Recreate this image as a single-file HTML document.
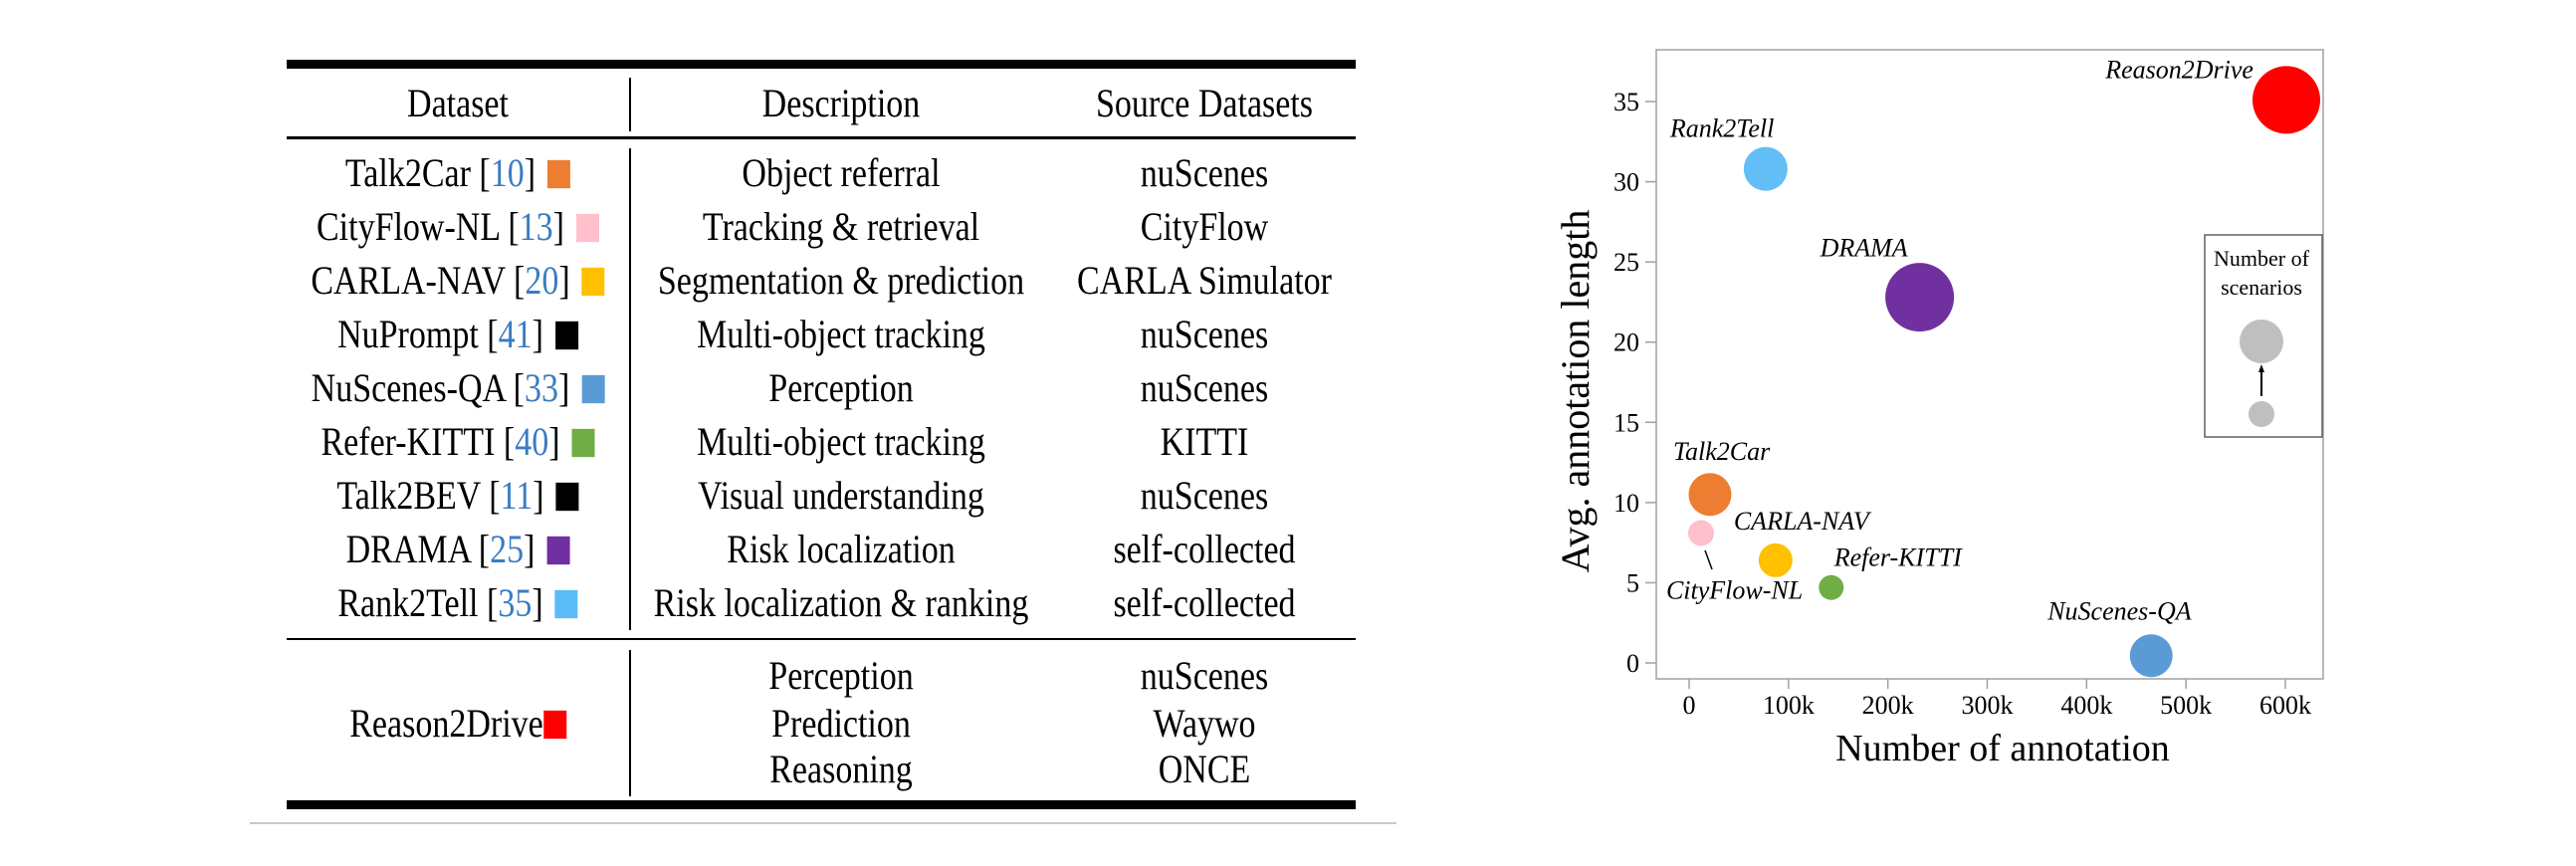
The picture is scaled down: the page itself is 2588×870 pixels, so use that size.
<!DOCTYPE html>
<html><head><meta charset="utf-8">
<style>
html,body{margin:0;padding:0;background:#fff;}
#root{position:relative;width:2588px;height:870px;overflow:hidden;background:#fff;font-family:"Liberation Serif",serif;color:#000;}
.t{position:absolute;font-size:34px;white-space:nowrap;transform:translate(-50%,-50%) scaleY(1.18);line-height:1;}
.cite{color:#3a7cc3;}
.sq{display:inline-block;width:23px;height:24px;vertical-align:-2px;margin-left:12px;}
.hl{position:absolute;background:#000;}
</style></head>
<body>
<div id="root">
  <div>
    <div class="hl" style="left:288px;top:60px;width:1074px;height:9px;"></div>
    <div class="hl" style="left:288px;top:137px;width:1074px;height:3px;"></div>
    <div class="hl" style="left:288px;top:641px;width:1074px;height:2px;"></div>
    <div class="hl" style="left:288px;top:804px;width:1074px;height:9px;"></div>
    <div class="hl" style="left:251px;top:826px;width:1152px;height:2px;background:#c8c8c8;"></div>
    <div class="hl" style="left:632px;top:78px;width:2px;height:54px;"></div>
    <div class="hl" style="left:632px;top:149px;width:2px;height:484px;"></div>
    <div class="hl" style="left:632px;top:653px;width:2px;height:147px;"></div>

    <div class="t" style="left:460px;top:105px;">Dataset</div>
    <div class="t" style="left:845px;top:105px;">Description</div>
    <div class="t" style="left:1210px;top:105px;">Source Datasets</div>

    <div class="t" style="left:460px;top:175px;">Talk2Car [<span class="cite">10</span>]<span class="sq" style="background:#ed7d31"></span></div>
    <div class="t" style="left:845px;top:175px;">Object referral</div>
    <div class="t" style="left:1210px;top:175px;">nuScenes</div>

    <div class="t" style="left:460px;top:229px;">CityFlow-NL [<span class="cite">13</span>]<span class="sq" style="background:#ffc0cb"></span></div>
    <div class="t" style="left:845px;top:229px;">Tracking &amp; retrieval</div>
    <div class="t" style="left:1210px;top:229px;">CityFlow</div>

    <div class="t" style="left:460px;top:283px;">CARLA-NAV [<span class="cite">20</span>]<span class="sq" style="background:#ffc000"></span></div>
    <div class="t" style="left:845px;top:283px;">Segmentation &amp; prediction</div>
    <div class="t" style="left:1210px;top:283px;">CARLA Simulator</div>

    <div class="t" style="left:460px;top:337px;">NuPrompt [<span class="cite">41</span>]<span class="sq" style="background:#000"></span></div>
    <div class="t" style="left:845px;top:337px;">Multi-object tracking</div>
    <div class="t" style="left:1210px;top:337px;">nuScenes</div>

    <div class="t" style="left:460px;top:391px;">NuScenes-QA [<span class="cite">33</span>]<span class="sq" style="background:#5b9bd5"></span></div>
    <div class="t" style="left:845px;top:391px;">Perception</div>
    <div class="t" style="left:1210px;top:391px;">nuScenes</div>

    <div class="t" style="left:460px;top:445px;">Refer-KITTI [<span class="cite">40</span>]<span class="sq" style="background:#70ad47"></span></div>
    <div class="t" style="left:845px;top:445px;">Multi-object tracking</div>
    <div class="t" style="left:1210px;top:445px;">KITTI</div>

    <div class="t" style="left:460px;top:499px;">Talk2BEV [<span class="cite">11</span>]<span class="sq" style="background:#000"></span></div>
    <div class="t" style="left:845px;top:499px;">Visual understanding</div>
    <div class="t" style="left:1210px;top:499px;">nuScenes</div>

    <div class="t" style="left:460px;top:553px;">DRAMA [<span class="cite">25</span>]<span class="sq" style="background:#7030a0"></span></div>
    <div class="t" style="left:845px;top:553px;">Risk localization</div>
    <div class="t" style="left:1210px;top:553px;">self-collected</div>

    <div class="t" style="left:460px;top:607px;">Rank2Tell [<span class="cite">35</span>]<span class="sq" style="background:#5bbcf8"></span></div>
    <div class="t" style="left:845px;top:607px;">Risk localization &amp; ranking</div>
    <div class="t" style="left:1210px;top:607px;">self-collected</div>

    <div class="t" style="left:460px;top:728px;">Reason2Drive<span class="sq" style="background:#ff0000;margin-left:0"></span></div>
    <div class="t" style="left:845px;top:680px;">Perception</div>
    <div class="t" style="left:845px;top:728px;">Prediction</div>
    <div class="t" style="left:845px;top:774px;">Reasoning</div>
    <div class="t" style="left:1210px;top:680px;">nuScenes</div>
    <div class="t" style="left:1210px;top:728px;">Waywo</div>
    <div class="t" style="left:1210px;top:774px;">ONCE</div>
  </div>

  <svg id="chart" width="2588" height="870" style="position:absolute;left:0;top:0;" xmlns="http://www.w3.org/2000/svg"></svg>
</div>
<script>
const names = ["Reason2Drive","Rank2Tell","DRAMA","Talk2Car","CityFlow-NL","CARLA-NAV","Refer-KITTI","NuScenes-QA"];
const annotations = [601000, 77000, 232000, 21000, 12000, 87000, 143000, 465000];
const avgLength = [35.1, 30.8, 22.8, 10.5, 8.1, 6.4, 4.7, 0.45];
const bubbleSize = [34, 22, 34.5, 21.5, 13, 17, 12.5, 21.5];
const colors = ["#ff0000","#63bef5","#7030a0","#ed7d31","#ffc0cb","#ffc000","#70ad47","#5b9bd5"];
const xTicks = [0,100000,200000,300000,400000,500000,600000];
const xTickLabels = ["0","100k","200k","300k","400k","500k","600k"];
const yTicks = [0,5,10,15,20,25,30,35];
const yTickLabels = ["0","5","10","15","20","25","30","35"];

const NS="http://www.w3.org/2000/svg";
const svg=document.getElementById('chart');
const X0=1697, XPER=(2296-1697)/600000;
const Y0=666, YPER=(666-102)/35;
const xs=v=>X0+v*XPER;
const ys=v=>Y0-v*YPER;
function mk(tag,attrs){const e=document.createElementNS(NS,tag);for(const k in attrs)e.setAttribute(k,attrs[k]);svg.appendChild(e);return e;}

const frame=mk('rect',{x:1664,y:50,width:670,height:632,fill:'none',stroke:'#a0a0a0','stroke-width':1.5});



xTicks.forEach((v,i)=>{
  const l=mk('line',{x1:xs(v),x2:xs(v),y1:682,y2:692,stroke:'#a0a0a0','stroke-width':1.5});
  
  
  const t=mk('text',{x:xs(v),y:717,'text-anchor':'middle','font-size':26,'font-family':'Liberation Serif, serif'});
  t.textContent=xTickLabels[i];
  
  
});
yTicks.forEach((v,i)=>{
  const l=mk('line',{x1:1653,x2:1664,y1:ys(v),y2:ys(v),stroke:'#a0a0a0','stroke-width':1.5});
  
  
  const t=mk('text',{x:1647,y:ys(v)+9,'text-anchor':'end','font-size':26,'font-family':'Liberation Serif, serif'});
  t.textContent=yTickLabels[i];
  
  
});
const xt=mk('text',{x:2012,y:764,'text-anchor':'middle','font-size':38,'font-family':'Liberation Serif, serif'});
xt.textContent='Number of annotation';


const yt=mk('text',{x:0,y:0,'text-anchor':'middle','font-size':40,'font-family':'Liberation Serif, serif',transform:'translate(1596,393) rotate(-90)'});
yt.textContent='Avg. annotation length';



// label placement offsets relative to bubble (anchor, dx, dy)
const labelPos = [["end",-33,-22],["start",-96,-32],["start",-100,-41],["start",-37,-35],["start",-35,66],["start",-42,-31],["start",3,-22],["start",-104,-36]];
names.forEach((n,i)=>{
  const cx=xs(annotations[i]), cy=ys(avgLength[i]);
  const c=mk('circle',{cx:cx,cy:cy,r:bubbleSize[i],fill:colors[i]});
  
  
  const p=labelPos[i];
  const t=mk('text',{x:cx+p[1],y:cy+p[2],'text-anchor':p[0],'font-size':26,'font-style':'italic','font-family':'Liberation Serif, serif'});
  t.textContent=n;
  
  
});
const ld=mk('line',{x1:1713,y1:553,x2:1720,y2:572,stroke:'#000','stroke-width':1.5});



const lb=mk('rect',{x:2215,y:236,width:118,height:203,fill:'#fff',stroke:'#606060','stroke-width':1.5});


const l1=mk('text',{x:2272,y:267,'text-anchor':'middle','font-size':22,'font-family':'Liberation Serif, serif'});
l1.textContent='Number of';


const l2=mk('text',{x:2272,y:296,'text-anchor':'middle','font-size':22,'font-family':'Liberation Serif, serif'});
l2.textContent='scenarios';


const bc=mk('circle',{cx:2272,cy:343,r:22,fill:'#bfbfbf'});


const sc=mk('circle',{cx:2272,cy:416,r:13,fill:'#bfbfbf'});


const ar=mk('line',{x1:2272,y1:398,x2:2272,y2:370,stroke:'#000','stroke-width':2});


const ah=mk('polygon',{points:'2272,366 2269,374 2275,374',fill:'#000'});


</script>
</body></html>
